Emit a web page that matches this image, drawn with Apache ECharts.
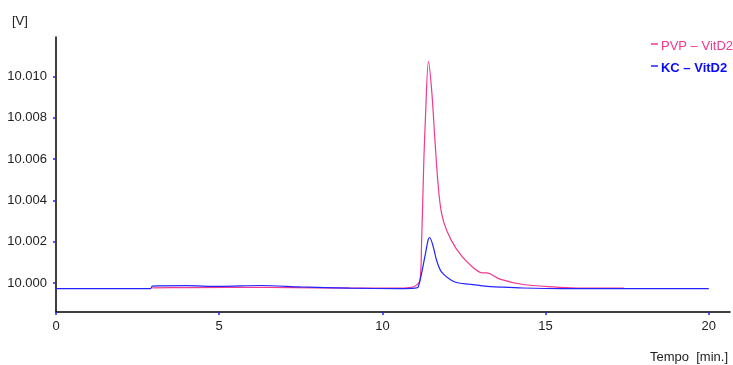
<!DOCTYPE html>
<html>
<head>
<meta charset="utf-8">
<script src="https://cdn.jsdelivr.net/npm/echarts@6/dist/echarts.min.js"></script>
<style>
  html, body { margin: 0; padding: 0; background: #fff; }
  #main { width: 733px; height: 365px; }
</style>
</head>
<body>
<div id="main"></div>
<script>
// tick labels
var xTicks = [0, 5, 10, 15, 20];
var yTicks = [10.000, 10.002, 10.004, 10.006, 10.008, 10.010];

// PVP - VitD2 (time in min, signal in V)
var pvpTime = [2.95, 4, 6.5, 8, 10.5, 10.84, 11.0, 11.15, 11.2, 11.27, 11.32, 11.41, 11.51, 11.61, 11.71, 11.81, 11.97, 12.27, 12.68, 13.06, 13.19, 13.6, 14.31, 15.23, 15.95, 17.4];
var pvpVolt = [9.99978, 9.99979, 9.99980, 9.99978, 9.99976, 9.99979, 9.99986, 10.00014, 10.00192, 10.00594, 10.00803, 10.01072, 10.00932, 10.00691, 10.00470, 10.00340, 10.00255, 10.00165, 10.00090, 10.00050, 10.00050, 10.00020, 9.99994, 9.99982, 9.99977, 9.99976];

// KC - VitD2
var kcTime = [0, 2.9, 2.95, 4, 5, 6.3, 7.5, 9, 10.5, 11.0, 11.1, 11.3, 11.4, 11.45, 11.56, 11.66, 11.81, 12.22, 12.68, 13.14, 13.69, 14.3, 15.5, 20];
var kcVolt = [9.99974, 9.99974, 9.99986, 9.99988, 9.99985, 9.99989, 9.99982, 9.99976, 9.99974, 9.99976, 9.99982, 10.00127, 10.00208, 10.00221, 10.00175, 10.00111, 10.00055, 10.00006, 9.99995, 9.99986, 9.99981, 9.99977, 9.99974, 9.99974];

function zip(xs, ys) {
  return xs.map(function (x, i) { return [x, ys[i]]; });
}

var pink = "#f2388f";
var blue = "#2323ff";
var marker = "path://M0,0 L10,0 L10,2 L0,2 Z M0,9 L0,9 Z";

var myChart = echarts.init(document.getElementById("main"));

var option = {
  animation: false,
  textStyle: { fontFamily: "Liberation Sans, Arial, sans-serif" },
  grid: { left: 56, right: 3, top: 37, bottom: 53 },
  legend: {
    orient: "vertical",
    right: -5,
    top: 35,
    itemWidth: 7,
    itemHeight: 8,
    itemGap: 9,
    icon: marker,
    data: [
      { name: "PVP – VitD2", textStyle: { color: pink, fontSize: 13 } },
      { name: "KC – VitD2", textStyle: { color: "#0a0aff", fontSize: 13, fontWeight: "bold" } },
    ],
    textStyle: { padding: [0, 0, 0, -2] },
  },
  xAxis: {
    type: "value",
    min: 0,
    max: 20.65,
    splitLine: { show: false },
    axisLine: { lineStyle: { color: "#000", width: 1.5 } },
    axisTick: { customValues: xTicks, length: 3, lineStyle: { color: blue, width: 1.5 } },
    axisLabel: { customValues: xTicks, color: "#222", fontSize: 13, margin: 8 },
  },
  yAxis: {
    type: "value",
    min: 9.99861,
    max: 10.0119,
    splitLine: { show: false },
    axisLine: { show: true, lineStyle: { color: "#000", width: 1.5 } },
    axisTick: { show: true, customValues: yTicks, length: 3, lineStyle: { color: blue, width: 1.5 } },
    axisLabel: {
      customValues: yTicks,
      color: "#222",
      fontSize: 13,
      margin: 9,
      formatter: function (v) { return v.toFixed(3); },
    },
  },
  graphic: [
    { type: "text", left: 12, top: 15, style: { text: "[V]", fill: "#222", font: "13px Liberation Sans" } },
    { type: "text", right: 5, top: 351, style: { text: "Tempo  [min.]", fill: "#222", font: "13px Liberation Sans" } },
  ],
  series: [
    {
      name: "PVP – VitD2",
      type: "line",
      data: zip(pvpTime, pvpVolt),
      showSymbol: false,
      smooth: 0.3,
      color: pink,
      lineStyle: { width: 1.2 },
    },
    {
      name: "KC – VitD2",
      type: "line",
      data: zip(kcTime, kcVolt),
      showSymbol: false,
      smooth: 0.3,
      color: blue,
      lineStyle: { width: 1.2 },
    },
  ],
};

myChart.setOption(option);
</script>
</body>
</html>
